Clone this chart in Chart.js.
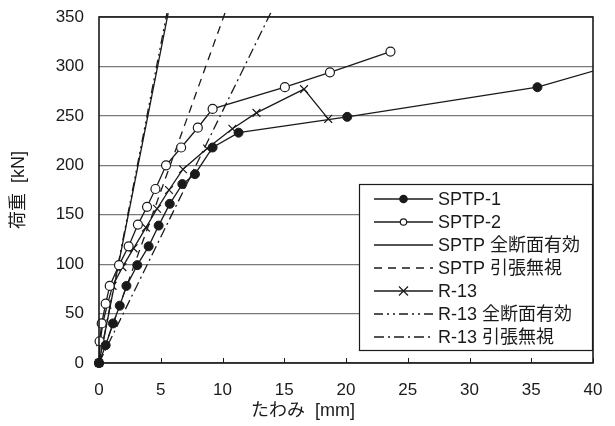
<!DOCTYPE html>
<html lang="ja">
<head>
<meta charset="utf-8">
<title>荷重-たわみ関係</title>
<script src="https://cdn.jsdelivr.net/npm/chart.js@4.4.1/dist/chart.umd.min.js"></script>
<style>
  html, body { margin: 0; padding: 0; background: #fff; }
  #wrap { position: relative; width: 615px; height: 426px; }
</style>
</head>
<body>
<div id="wrap"><canvas id="load-deflection-chart"></canvas></div>
<script>
// measured load-deflection data (deflection mm, load kN)
const sptp1Defl = [0, 0.54, 1.13, 1.68, 2.22, 3.1, 4.02, 4.83, 5.73, 6.75, 7.77, 9.2, 11.3, 20.1, 35.5, 40.5];
const sptp1Load = [0, 18, 40, 58, 78, 99, 118, 139, 161, 181, 191, 218, 233, 249, 279, 297];

const sptp2Defl = [0, 0.05, 0.22, 0.54, 0.87, 1.62, 2.4, 3.15, 3.89, 4.57, 5.43, 6.65, 8.0, 9.2, 15.05, 18.7, 23.6];
const sptp2Load = [0, 22, 40, 60, 78, 99, 118, 140, 158, 176, 200, 218, 238, 257, 279, 294, 315];

const r13Defl = [0, 0.1, 0.3, 0.68, 1.1, 1.9, 2.8, 3.8, 4.7, 5.67, 6.8, 8.75, 10.8, 12.75, 16.6, 18.56];
const r13Load = [0, 21, 40, 59, 78, 97, 116, 137, 156, 175, 196, 217, 237, 253, 277, 247];

// calculated stiffness lines (origin -> top of plot)
const sptpFullDefl = [0, 5.6];
const sptpFullLoad = [0, 354];
const sptpCrackDefl = [0, 10.2];
const sptpCrackLoad = [0, 354];
const r13FullDefl = [0, 5.5];
const r13FullLoad = [0, 354];
const r13CrackDefl = [0, 13.9];
const r13CrackLoad = [0, 354];

const xTickValues = [0, 5, 10, 15, 20, 25, 30, 35, 40];
const yTickValues = [0, 50, 100, 150, 200, 250, 300, 350];

const seriesLabels = ['SPTP-1', 'SPTP-2', 'SPTP 全断面有効', 'SPTP 引張無視', 'R-13', 'R-13 全断面有効', 'R-13 引張無視'];

const FONT = '"Liberation Sans", Arial, "Noto Sans CJK JP", sans-serif';
const INK = '#1a1a1a';

function toPoints(xs, ys) {
    return xs.map((x, i) => ({ x: x, y: ys[i] }));
}

function lineSet(label, xs, ys, extra) {
    return Object.assign({
        label: label,
        data: toPoints(xs, ys),
        showLine: true,
        borderColor: INK,
        backgroundColor: INK,
        borderWidth: 1.3,
        pointRadius: 0,
        pointHoverRadius: 0,
        tension: 0,
        clip: { left: 6, top: 5, right: 0, bottom: 6 }
    }, extra);
}

const datasets = [
    lineSet(seriesLabels[0], sptp1Defl, sptp1Load, {
        pointStyle: 'circle', pointRadius: 4.5, pointBackgroundColor: INK, pointBorderColor: INK, pointBorderWidth: 1
    }),
    lineSet(seriesLabels[1], sptp2Defl, sptp2Load, {
        pointStyle: 'circle', pointRadius: 4.5, pointBackgroundColor: '#fff', pointBorderColor: INK, pointBorderWidth: 1.2
    }),
    lineSet(seriesLabels[2], sptpFullDefl, sptpFullLoad),
    lineSet(seriesLabels[3], sptpCrackDefl, sptpCrackLoad, { borderDash: [8, 6] }),
    lineSet(seriesLabels[4], r13Defl, r13Load, {
        pointStyle: 'crossRot', pointRadius: 5.5, pointBorderColor: INK, pointBorderWidth: 1.2
    }),
    lineSet(seriesLabels[5], r13FullDefl, r13FullLoad, { borderDash: [9, 4, 2, 4, 2, 4] }),
    lineSet(seriesLabels[6], r13CrackDefl, r13CrackLoad, { borderDash: [10, 4, 2, 4] })
];

// legend sample markers, by dataset index
const legendMarks = ['dot', 'ring', null, null, 'cross', null, null];

function drawMark(ctx, kind, x, y) {
    ctx.beginPath();
    if (kind === 'dot') {
        ctx.arc(x, y, 4.3, 0, Math.PI * 2);
        ctx.fillStyle = INK;
        ctx.fill();
    } else if (kind === 'ring') {
        ctx.arc(x, y, 3.2, 0, Math.PI * 2);
        ctx.fillStyle = '#fff';
        ctx.fill();
        ctx.lineWidth = 1.2;
        ctx.setLineDash([]);
        ctx.stroke();
    } else if (kind === 'cross') {
        const r = 4.5;
        ctx.lineWidth = 1.2;
        ctx.setLineDash([]);
        ctx.moveTo(x - r, y - r); ctx.lineTo(x + r, y + r);
        ctx.moveTo(x - r, y + r); ctx.lineTo(x + r, y - r);
        ctx.stroke();
    }
}

const frameAndLegend = {
    id: 'frameAndLegend',
    afterDatasetsDraw(chart) {
        const { ctx, chartArea: a, scales } = chart;
        const x = scales.x;
        ctx.save();
        ctx.strokeStyle = INK;

        // short tick marks pointing into the plot on the deflection axis
        ctx.lineWidth = 1;
        x.ticks.forEach(t => {
            const px = Math.round(x.getPixelForValue(t.value)) + 0.5;
            ctx.beginPath();
            ctx.moveTo(px, a.bottom);
            ctx.lineTo(px, a.bottom - 5);
            ctx.stroke();
        });

        // plot frame
        ctx.lineWidth = 1.6;
        ctx.strokeRect(a.left, a.top, a.right - a.left, a.bottom - a.top);

        // legend box, lower right
        const boxW = 234;
        const boxL = a.right - boxW;
        const boxT = 184;
        const boxB = a.bottom - 13;
        ctx.fillStyle = '#fff';
        ctx.fillRect(boxL, boxT, boxW, boxB - boxT);
        ctx.lineWidth = 1.2;
        ctx.strokeRect(boxL + 0.5, boxT + 0.5, boxW - 1, boxB - boxT);

        ctx.font = '18px ' + FONT;
        ctx.textBaseline = 'middle';
        ctx.textAlign = 'left';
        chart.data.datasets.forEach((ds, i) => {
            const ry = boxT + 15 + i * 23;
            const sx0 = boxL + 15;
            const sx1 = boxL + 74;
            ctx.beginPath();
            ctx.lineWidth = 1.3;
            ctx.setLineDash(ds.borderDash || []);
            ctx.moveTo(sx0, ry);
            ctx.lineTo(sx1, ry);
            ctx.stroke();
            ctx.setLineDash([]);
            if (legendMarks[i]) drawMark(ctx, legendMarks[i], (sx0 + sx1) / 2, ry);
            ctx.fillStyle = INK;
            ctx.fillText(ds.label, boxL + 79, ry + 1);
        });

        // deflection axis title
        ctx.font = '18px ' + FONT;
        ctx.textAlign = 'center';
        ctx.fillStyle = INK;
        ctx.fillText('たわみ  [mm]', 303, 411);
        ctx.restore();
    }
};

function initChart() {
    const ctx = document.getElementById('load-deflection-chart').getContext('2d');
    return new Chart(ctx, {
        type: 'scatter',
        data: { datasets: datasets },
        options: {
            responsive: true,
            maintainAspectRatio: false,
            animation: false,
            events: [],
            layout: { padding: { top: 17, right: 22, left: 0, bottom: 0 } },
            plugins: { legend: { display: false }, tooltip: { enabled: false } },
            scales: {
                x: {
                    type: 'linear',
                    min: 0,
                    max: 40,
                    afterBuildTicks: s => { s.ticks = xTickValues.map(v => ({ value: v })); },
                    afterFit: s => { s.height = 63; s.paddingLeft = 0; s.paddingRight = 0; },
                    grid: { drawOnChartArea: false, drawTicks: false },
                    border: { display: false },
                    ticks: { padding: 17, color: INK, font: { family: FONT, size: 17 } }
                },
                y: {
                    type: 'linear',
                    min: 0,
                    max: 350,
                    afterBuildTicks: s => { s.ticks = yTickValues.map(v => ({ value: v })); },
                    afterFit: s => { s.width = 99; s.paddingTop = 0; s.paddingBottom = 0; },
                    grid: { color: '#7a7a7a', lineWidth: 1.2, drawTicks: false },
                    border: { display: false },
                    ticks: { padding: 15, color: INK, font: { family: FONT, size: 17 } },
                    title: {
                        display: true,
                        text: '荷重  [kN]',
                        color: INK,
                        font: { family: FONT, size: 18 },
                        padding: { top: 8, bottom: 0 }
                    }
                }
            }
        },
        plugins: [frameAndLegend]
    });
}

document.addEventListener('DOMContentLoaded', () => {
    initChart();
});
</script>
</body>
</html>
